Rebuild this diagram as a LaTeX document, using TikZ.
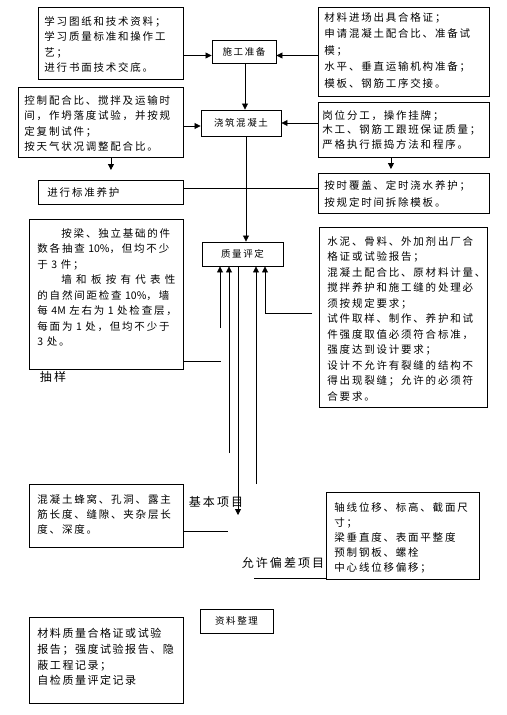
\documentclass[tikz,border=0pt]{standalone}
\usepackage{fontspec}
\setmainfont{Noto Sans CJK SC}[LetterSpace=17]
\usetikzlibrary{arrows.meta}
\newcommand\lat[1]{{\addfontfeatures{LetterSpace=0}#1}}

\begin{document}
\begin{tikzpicture}[x=1bp,y=-1bp]
	\tikzstyle{note}=[draw, line width=0.9bp, anchor=north west, align=left, inner xsep=6bp, inner ysep=5bp, text height=13bp, font=\fontsize{10.5bp}{15.5bp}\selectfont]
	\tikzstyle{stage}=[draw, line width=0.9bp, inner sep=0bp, font=\fontsize{9.5bp}{11bp}\selectfont]
	\tikzstyle{tag}=[inner sep=0bp, font=\fontsize{12bp}{14bp}\selectfont]
	\tikzstyle{connect}=[-{Triangle[length=6bp,width=6bp]}, line width=0.8bp]
	\tikzstyle{link}=[line width=0.8bp]
	\useasboundingbox (0,0) rectangle (507,715);
	  % main steps
	  \node[stage, minimum width=64bp, minimum height=23bp] (prep) at (244,51.5) {施工准备};
	  \node[stage, minimum width=80bp, minimum height=26bp] (pour) at (241,123) {浇筑混凝土};
	  \node[stage, minimum width=81bp, minimum height=24bp] (judge) at (242.5,254) {质量评定};
	  \node[stage, minimum width=73bp, minimum height=24bp] (archive) at (236.5,621) {资料整理};
	  % notes
	  \node[note, text width=133bp, text depth=49bp] (study) at (38,7) {学习图纸和技术资料；\\学习质量标准和操作工\\艺；\\进行书面技术交底。};
	  \node[note, text width=159bp, text height=9bp, text depth=70bp, font=\fontsize{10.5bp}{16.5bp}\selectfont] (supply) at (318,7) {材料进场出具合格证；\\申请混凝土配合比、准备试\\模；\\水平、垂直运输机构准备；\\模板、钢筋工序交接。};
	  \node[note, text width=153bp, text height=12bp, text depth=48bp] (mixing) at (18,87) {控制配合比、搅拌及运输时\\间，作坍落度试验，并按规\\定复制试件；\\按天气状况调整配合比。};
	  \node[note, inner xsep=4bp, text width=163bp, text height=12bp, text depth=33bp, font=\fontsize{10.5bp}{14.5bp}\selectfont] (crew) at (318,102) {岗位分工，操作挂牌；\\木工、钢筋工跟班保证质量；\\严格执行振捣方法和程序。};
	  \node[note, inner xsep=9bp, text width=127bp, text height=11bp, text depth=3bp] (cure) at (38,180) {进行标准养护};
	  \node[note, text width=159bp, text height=11bp, text depth=19bp, font=\fontsize{10.5bp}{17bp}\selectfont] (cover) at (318,173) {按时覆盖、定时浇水养护；\\按规定时间拆除模板。};
	  \node[note, inner xsep=8bp, text width=138bp, text depth=127bp] (spot) at (29,219) {\hspace*{24bp}按梁、独立基础的件\\数各抽查 \lat{10\%}，但均不少\\于 \lat{3} 件；\\\hspace*{24bp}墙\hfill 和\hfill 板\hfill 按\hfill 有\hfill 代\hfill 表\hfill 性\\的自然间距检查 \lat{10\%}，墙\\每 \lat{4M} 左右为 \lat{1} 处检查层，\\每面为 \lat{1} 处，但均不少于\\\lat{3} 处。};
	  \node[note, inner xsep=8bp, text width=152bp, text depth=157bp] (material) at (319,227) {水泥、骨料、外加剂出厂合\\格证或试验报告；\\混凝土配合比、原材料计量、\\搅拌养护和施工缝的处理必\\须按规定要求；\\试件取样、制作、养护和试\\件强度取值必须符合标准，\\强度达到设计要求；\\设计不允许有裂缝的结构不\\得出现裂缝；允许的必须符\\合要求。};
	  \node[note, inner xsep=8bp, text width=138bp, text height=14bp, text depth=39bp, font=\fontsize{10.5bp}{15bp}\selectfont] (defect) at (29,484) {混凝土蜂窝、孔洞、露主\\筋长度、缝隙、夹杂层长\\度、深度。};
	  \node[note, inner xsep=8bp, text width=137bp, text height=14bp, text depth=63bp, font=\fontsize{10.5bp}{15bp}\selectfont] (offset) at (326,492) {轴线位移、标高、截面尺\\寸；\\梁垂直度、表面平整度\\预制钢板、螺栓\\中心线位移偏移；};
	  \node[note, inner xsep=8bp, text width=138bp, text height=15.2bp, text depth=60.8bp, font=\fontsize{11bp}{15.7bp}\selectfont\addfontfeatures{LetterSpace=14}] (records) at (29,617) {材料质量合格证或试验\\报告；强度试验报告、隐\\蔽工程记录；\\自检质量评定记录};
	  % labels
	  \node[tag] (sampling) at (53,377) {抽样};
	  \node[tag] (basicitem) at (216,502) {基本项目};
	  \node[tag] (tolerance) at (283,563) {允许偏差项目};
	  % loose ends
	  \coordinate (spotin) at (220,328);
	  \coordinate (spotout) at (221,361);
	  \coordinate (defectin) at (229,453);
	  \coordinate (defectout) at (228,531);
	  \coordinate (basic) at (238,515);
	  \coordinate (offsetin) at (256,484);
	  \coordinate (offsetout) at (254,578);
	  \coordinate (materialout) at (312,313);
	  \path
	    ([yshift=-4bp]prep.west -| study.east) edge [connect] ([yshift=-4bp]prep.west)
	    ([yshift=-4bp]prep.east -| supply.west) edge [connect] ([yshift=-4bp]prep.east)
	    ([xshift=1bp]prep.south) edge [connect] ([xshift=1bp]prep.south |- pour.north)
	    ([yshift=-3bp]pour.west -| mixing.east) edge [connect] ([yshift=-3bp]pour.west)
	    (pour.east -| crew.west) edge [connect] (pour.east)
	    (cure.north |- mixing.south) edge [connect, shorten >=10bp] (cure.north)
	    ([xshift=-13bp]crew.south) edge [connect, shorten >=4bp] ([xshift=-13bp]crew.south |- cover.north)
	    ([xshift=5bp]pour.south) edge [connect] ([xshift=5bp]pour.south |- judge.north)
	    ([yshift=4bp]cure.east) edge [link] ([yshift=4bp]cure.east -| cover.west);
	  \draw[connect] (spotin) -- (spotin |- judge.south);
	  \draw[link] (spotout -| spot.east) -- (spotout);
	  \draw[connect] (defectin) -- (defectin |- judge.south);
	  \draw[link] (defectout -| defect.east) -- (defectout);
	  \draw[connect] (basic |- judge.south) -- (basic);
	  \draw[connect] (offsetin) -- (offsetin |- judge.south);
	  \draw[link] (offsetout) -- (offsetout -| offset.west);
	  \draw[connect] (materialout) -| ([xshift=22.5bp]judge.south);
\end{tikzpicture}
\end{document}
